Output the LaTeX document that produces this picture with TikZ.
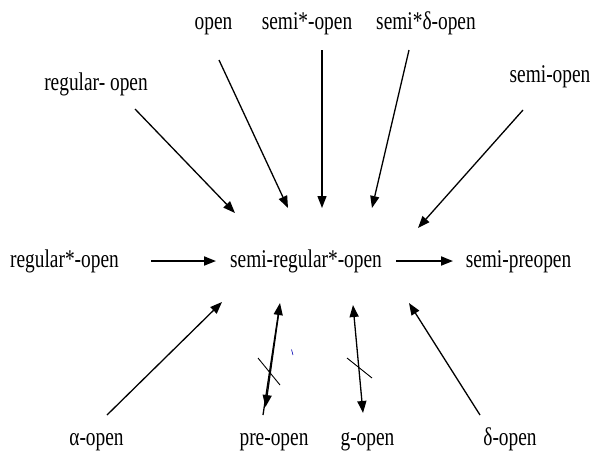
\documentclass[tikz,border=0pt]{standalone}
\usepackage{fontspec}
\setmainfont{Liberation Serif}[FakeStretch=0.76]
\usetikzlibrary{arrows.meta}
\begin{document}
\begin{tikzpicture}[x=1pt,y=-1pt,
  lbl/.style={anchor=base,inner sep=0pt,font=\fontsize{25.5}{29}\selectfont},
  imp/.style={line width=1.3pt,-{Triangle[length=12pt,width=9pt]}},
  himp/.style={line width=1.8pt,-{Triangle[length=12pt,width=9pt]}},
  both/.style={line width=1.3pt,{Triangle[length=12pt,width=9pt]}-{Triangle[length=12pt,width=9pt]}},
  slash/.style={line width=0.9pt}]
\useasboundingbox (0,0) rectangle (594,451);

% labels
\node[lbl] (open)   at (213.5,29) {open};
\node[lbl] (sso)    at (307,29)   {semi*-open};
\node[lbl] (ssdo)   at (426,29)   {semi*δ-open};
\node[lbl] (ro)     at (96,90)    {regular- open};
\node[lbl] (so)     at (550,82)   {semi-open};
\node[lbl] (rso)    at (64.5,267) {regular*-open};
\node[lbl] (srso)   at (306,267)  {semi-regular*-open};
\node[lbl] (spo)    at (518.5,267){semi-preopen};
\node[lbl] (ao)     at (96.5,445) {α-open};
\node[lbl] (pro)    at (274,445)  {pre-open};
\node[lbl] (go)     at (367.5,445){g-open};
\node[lbl] (do)     at (510,445)  {δ-open};

% arrow end points
\coordinate (ro-t)   at (135,109);  \coordinate (ro-h)   at (235,213);
\coordinate (open-t) at (219,60);   \coordinate (open-h) at (288,208);
\coordinate (sso-t)  at (322,50);   \coordinate (sso-h)  at (322,208);
\coordinate (ssdo-t) at (409,50);   \coordinate (ssdo-h) at (372,208);
\coordinate (so-t)   at (523,110);  \coordinate (so-h)   at (418,228);
\coordinate (rso-t)  at (151,261);  \coordinate (rso-h)  at (216,261);
\coordinate (spo-t)  at (396,261);  \coordinate (spo-h)  at (453,261);
\coordinate (ao-t)   at (107,415);  \coordinate (ao-h)   at (222,302);
\coordinate (pro-b)  at (263,415);  \coordinate (pro-u)  at (280,303);
\coordinate (pro-s)  at (279,311);  \coordinate (pro-d)  at (265.5,407);
\coordinate (go-u)   at (353,305);  \coordinate (go-d)   at (363,413);
\coordinate (do-t)   at (480,415);  \coordinate (do-h)   at (409,303);

% implications into semi-regular*-open
\draw[imp] (ro-t) -- (ro-h);
\draw[imp] (open-t) -- (open-h);
\draw[imp] (sso-t) -- (sso-h);
\draw[imp] (ssdo-t) -- (ssdo-h);
\draw[imp] (so-t) -- (so-h);
\draw[himp] (rso-t) -- (rso-h);
\draw[himp] (spo-t) -- (spo-h);
\draw[imp] (ao-t) -- (ao-h);
\draw[imp] (do-t) -- (do-h);

% non-implications (crossed double arrows)
\draw[imp] (pro-b) -- (pro-u);
\draw[imp] (pro-s) -- (pro-d);
\draw[slash] (258,358) -- (280,385);
\draw[both] (go-u) -- (go-d);
\draw[slash] (347,358) -- (372,378);

% small stray tick
\draw[blue!70!black,line width=0.6pt] (291.5,349.5) -- (293,355);
\end{tikzpicture}
\end{document}
